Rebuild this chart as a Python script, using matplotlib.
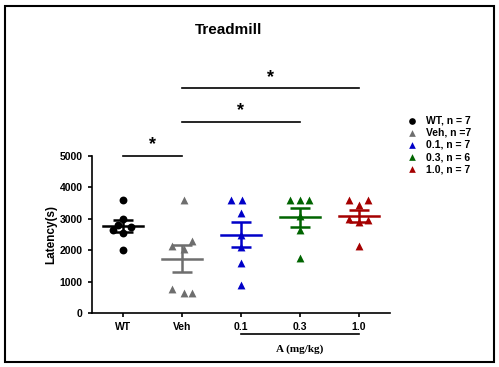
import numpy as np
import matplotlib.pyplot as plt
from matplotlib.patches import Rectangle

plt.rcParams['font.family'] = ['Liberation Sans', 'DejaVu Sans']

groups = ['WT', 'Veh', '0.1', '0.3', '1.0']
legend_labels = ['WT, n = 7', 'Veh, n =7', '0.1, n = 7', '0.3, n = 6', '1.0, n = 7']
colors = ['black', '#6e6e6e', '#0000c8', '#006400', '#a50000']
markers = ['o', '^', '^', '^', '^']

wt = [3600, 3000, 2800, 2750, 2650, 2550, 2000]
veh = [3600, 2300, 2150, 2050, 750, 650, 650]
d01 = [3600, 3600, 3200, 2500, 2100, 1600, 900]
d03 = [3600, 3600, 3600, 3100, 2650, 1750]
d10 = [3600, 3600, 3450, 3000, 2950, 2900, 2150]
data = [wt, veh, d01, d03, d10]

# horizontal jitter within a group (same order as values)
offsets = [
    [0, 0, -0.08, 0.14, -0.16, 0, 0],
    [0.03, 0.18, -0.16, 0.03, -0.16, 0.03, 0.18],
    [-0.16, 0.02, 0, 0, 0, 0, 0],
    [-0.17, 0, 0.16, 0, 0, 0],
    [-0.17, 0.15, 0, -0.17, 0.15, 0, 0],
]

fig = plt.figure(figsize=(4.99, 3.67), dpi=100)
ax = fig.add_axes([0.184, 0.147, 0.597, 0.428])

for i, (vals, c, m) in enumerate(zip(data, colors, markers)):
    x = i + 1
    vals = np.array(vals, dtype=float)
    xs = x + np.array(offsets[i])
    ax.scatter(xs, vals, color=c, marker=m, s=32, zorder=3, label=legend_labels[i],
               linewidths=0)
    mean = vals.mean()
    sem = vals.std(ddof=1) / np.sqrt(len(vals))
    ax.plot([x - 0.34, x + 0.34], [mean, mean], color=c, lw=1.8, zorder=4)
    ax.errorbar(x, mean, yerr=sem, color=c, lw=1.8, capsize=7, capthick=1.8, zorder=4)

ax.set_xlim(0.475, 5.525)
ax.set_ylim(0, 5000)
ax.set_yticks([0, 1000, 2000, 3000, 4000, 5000])
ax.set_xticks(range(1, 6))
ax.set_xticklabels(groups)
ax.tick_params(labelsize=7.5, width=1.2, length=3)
for lbl in ax.get_xticklabels() + ax.get_yticklabels():
    lbl.set_fontweight('bold')
ax.spines['top'].set_visible(False)
ax.spines['right'].set_visible(False)
ax.spines['left'].set_linewidth(1.2)
ax.spines['bottom'].set_linewidth(1.2)
ax.set_ylabel('Latency(s)', fontsize=8.5, fontweight='bold', labelpad=2)

# significance bars
sig = [(1, 2, 5000), (2, 4, 6080), (2, 5, 7150)]
for a, b, y in sig:
    ax.plot([a, b], [y, y], color='black', lw=1.2, clip_on=False)
    ax.text((a + b) / 2, y + 80, '*', ha='center', va='bottom', fontsize=13,
            fontweight='bold', clip_on=False)

# dose bracket
ax.plot([3, 5], [-680, -680], color='black', lw=1.2, clip_on=False)
ax.text(4, -1000, 'A (mg/kg)', ha='center', va='top', fontsize=8, fontweight='bold',
        family='Liberation Serif')

fig.text(0.458, 0.918, 'Treadmill', ha='center', va='center', fontsize=11, fontweight='bold')

leg = ax.legend(loc='upper left', bbox_to_anchor=(0.785, 0.71), bbox_transform=fig.transFigure,
                frameon=False, prop={'weight': 'bold', 'size': 7.5},
                handletextpad=0.4, markerscale=0.85, labelspacing=0.2)

fig.patches.append(Rectangle((0.01, 0.013), 0.98, 0.97, transform=fig.transFigure,
                             fill=False, edgecolor='black', lw=1.5))

fig.savefig('out.png', dpi=100)
